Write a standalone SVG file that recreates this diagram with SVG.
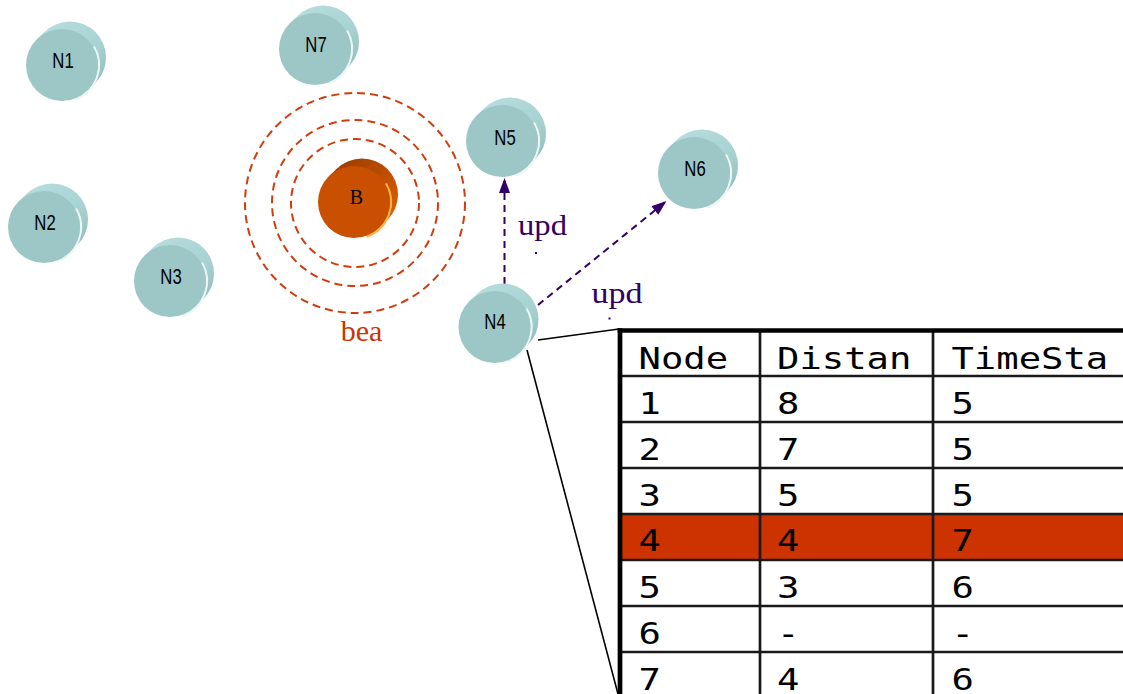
<svg xmlns="http://www.w3.org/2000/svg" xmlns:xlink="http://www.w3.org/1999/xlink" width="1123" height="694" viewBox="0 0 1123 694">
<style>
.nt{font-family:"Liberation Sans",Arial,sans-serif;font-size:22px;fill:#000;text-anchor:middle}
.lbl{font-family:"Liberation Serif","Times New Roman",serif;font-size:30px}
.tt{font-family:"DejaVu Sans Mono",monospace;font-size:31px;fill:#000}
.rl{stroke:#1a1a1a;stroke-width:2.5}
.cl{stroke:#1a1a1a;stroke-width:2.7}
.dash{stroke:#330066;stroke-width:2;stroke-dasharray:7 5;fill:none}
.ring{stroke:#d03c0c;stroke-width:2;stroke-dasharray:8 5;fill:none}
</style>
<defs>
<linearGradient id="gT" gradientUnits="userSpaceOnUse" x1="-20" y1="-45" x2="45" y2="30">
<stop offset="0" stop-color="#b9dfdf"/><stop offset="0.6" stop-color="#a7d1d1"/><stop offset="1" stop-color="#8ab3b3"/>
</linearGradient>
<linearGradient id="gB" gradientUnits="userSpaceOnUse" x1="-20" y1="-45" x2="45" y2="30">
<stop offset="0" stop-color="#9a3a00"/><stop offset="0.55" stop-color="#c45200"/><stop offset="1" stop-color="#e06810"/>
</linearGradient>
<g id="cylT">
<circle cx="8" cy="-7.5" r="36" fill="url(#gT)"/>
<path d="M24.6,26.2 L32.6,18.7 L-16.6,-33.7 L-24.6,-26.2 Z" fill="url(#gT)"/>
<path d="M32,-18.5 A37,37 0 0,1 12.65,34.77" stroke="#eaf6f6" stroke-width="2.2" fill="none"/>
<circle r="36" fill="#9dc6c6"/>
</g>
<g id="cylB">
<circle cx="8" cy="-7.5" r="36" fill="url(#gB)"/>
<path d="M24.6,26.2 L32.6,18.7 L-16.6,-33.7 L-24.6,-26.2 Z" fill="url(#gB)"/>
<path d="M32,-18.5 A37,37 0 0,1 12.65,34.77" stroke="#ffb347" stroke-width="2.2" fill="none"/>
<circle r="36" fill="#c85000"/>
</g>
<marker id="ah" markerUnits="userSpaceOnUse" markerWidth="16" markerHeight="11" refX="15" refY="5.5" orient="auto">
<path d="M0,0 L15,5.5 L0,11 Z" fill="#330066"/>
</marker>
</defs>

<g id="beacon-rings">
<circle class="ring" cx="355" cy="203" r="64"/>
<circle class="ring" cx="355" cy="203" r="83"/>
<circle class="ring" cx="355" cy="203" r="110"/>
</g>

<g id="connectors">
<line class="dash" x1="504.5" y1="284" x2="504.5" y2="178" marker-end="url(#ah)"/>
<line class="dash" x1="538" y1="305" x2="666.5" y2="201" marker-end="url(#ah)"/>
<line x1="538" y1="340" x2="619" y2="329" stroke="#000" stroke-width="1.6"/>
<line x1="527" y1="350" x2="618" y2="694" stroke="#000" stroke-width="1.6"/>
</g>

<g id="N1"><use href="#cylT" x="62" y="65"/><text class="nt" transform="translate(63,67.5) scale(0.76,1)">N1</text></g>
<g id="N7"><use href="#cylT" x="315" y="49"/><text class="nt" transform="translate(316,51.5) scale(0.76,1)">N7</text></g>
<g id="N5"><use href="#cylT" x="502" y="141"/><text class="nt" transform="translate(505,144.5) scale(0.76,1)">N5</text></g>
<g id="N6"><use href="#cylT" x="694" y="173"/><text class="nt" transform="translate(695,175.5) scale(0.76,1)">N6</text></g>
<g id="N2"><use href="#cylT" x="44" y="227"/><text class="nt" transform="translate(45,229.5) scale(0.76,1)">N2</text></g>
<g id="N3"><use href="#cylT" x="170" y="281"/><text class="nt" transform="translate(171,283.5) scale(0.76,1)">N3</text></g>
<g id="N4"><use href="#cylT" x="494.5" y="327"/><text class="nt" transform="translate(495,329) scale(0.76,1)">N4</text></g>
<g id="B"><use href="#cylB" x="354" y="202"/><text x="356.5" y="204" font-family="Liberation Serif, serif" font-size="20" text-anchor="middle" fill="#000">B</text></g>

<g id="labels">
<text class="lbl" x="361.5" y="341" text-anchor="middle" fill="#cc3300">bea</text>
<text class="lbl" x="518" y="235" fill="#330066" textLength="49" lengthAdjust="spacingAndGlyphs">upd</text>
<rect x="535" y="252" width="2" height="2" fill="#330066"/>
<text class="lbl" x="591.5" y="303" fill="#330066" textLength="51" lengthAdjust="spacingAndGlyphs">upd</text>
<rect x="608.5" y="317.5" width="2" height="2" fill="#330066"/>
</g>

<g id="table">
<rect x="620" y="330" width="503" height="364" fill="#fff"/>
<rect x="620" y="514" width="503" height="46" fill="#cc3300"/>
<line class="rl" x1="620" y1="376" x2="1123" y2="376"/>
<line class="rl" x1="620" y1="422" x2="1123" y2="422"/>
<line class="rl" x1="620" y1="468" x2="1123" y2="468"/>
<line class="rl" x1="620" y1="514" x2="1123" y2="514"/>
<line class="rl" x1="620" y1="560" x2="1123" y2="560"/>
<line class="rl" x1="620" y1="606" x2="1123" y2="606"/>
<line class="rl" x1="620" y1="652" x2="1123" y2="652"/>
<line class="cl" x1="760" y1="330" x2="760" y2="694"/>
<line class="cl" x1="933" y1="330" x2="933" y2="694"/>
<line x1="617.7" y1="330.5" x2="1123" y2="330.5" stroke="#000" stroke-width="4.5"/>
<line x1="620" y1="328.3" x2="620" y2="694" stroke="#000" stroke-width="4.7"/>
<g class="tt" transform="scale(1.2,1)">
<text x="532.1" y="369">Node</text><text x="647.5" y="369">Distan</text><text x="792.9" y="369">TimeSta</text>
<text x="532.1" y="414">1</text><text x="647.5" y="414">8</text><text x="792.9" y="414">5</text>
<text x="532.1" y="460">2</text><text x="647.5" y="460">7</text><text x="792.9" y="460">5</text>
<text x="532.1" y="506">3</text><text x="647.5" y="506">5</text><text x="792.9" y="506">5</text>
<text x="532.1" y="551">4</text><text x="647.5" y="551">4</text><text x="792.9" y="551">7</text>
<text x="532.1" y="598">5</text><text x="647.5" y="598">3</text><text x="792.9" y="598">6</text>
<text x="532.1" y="644">6</text><text x="647.5" y="644">-</text><text x="792.9" y="644">-</text>
<text x="532.1" y="690">7</text><text x="647.5" y="690">4</text><text x="792.9" y="690">6</text>
</g>
</g>
</svg>
